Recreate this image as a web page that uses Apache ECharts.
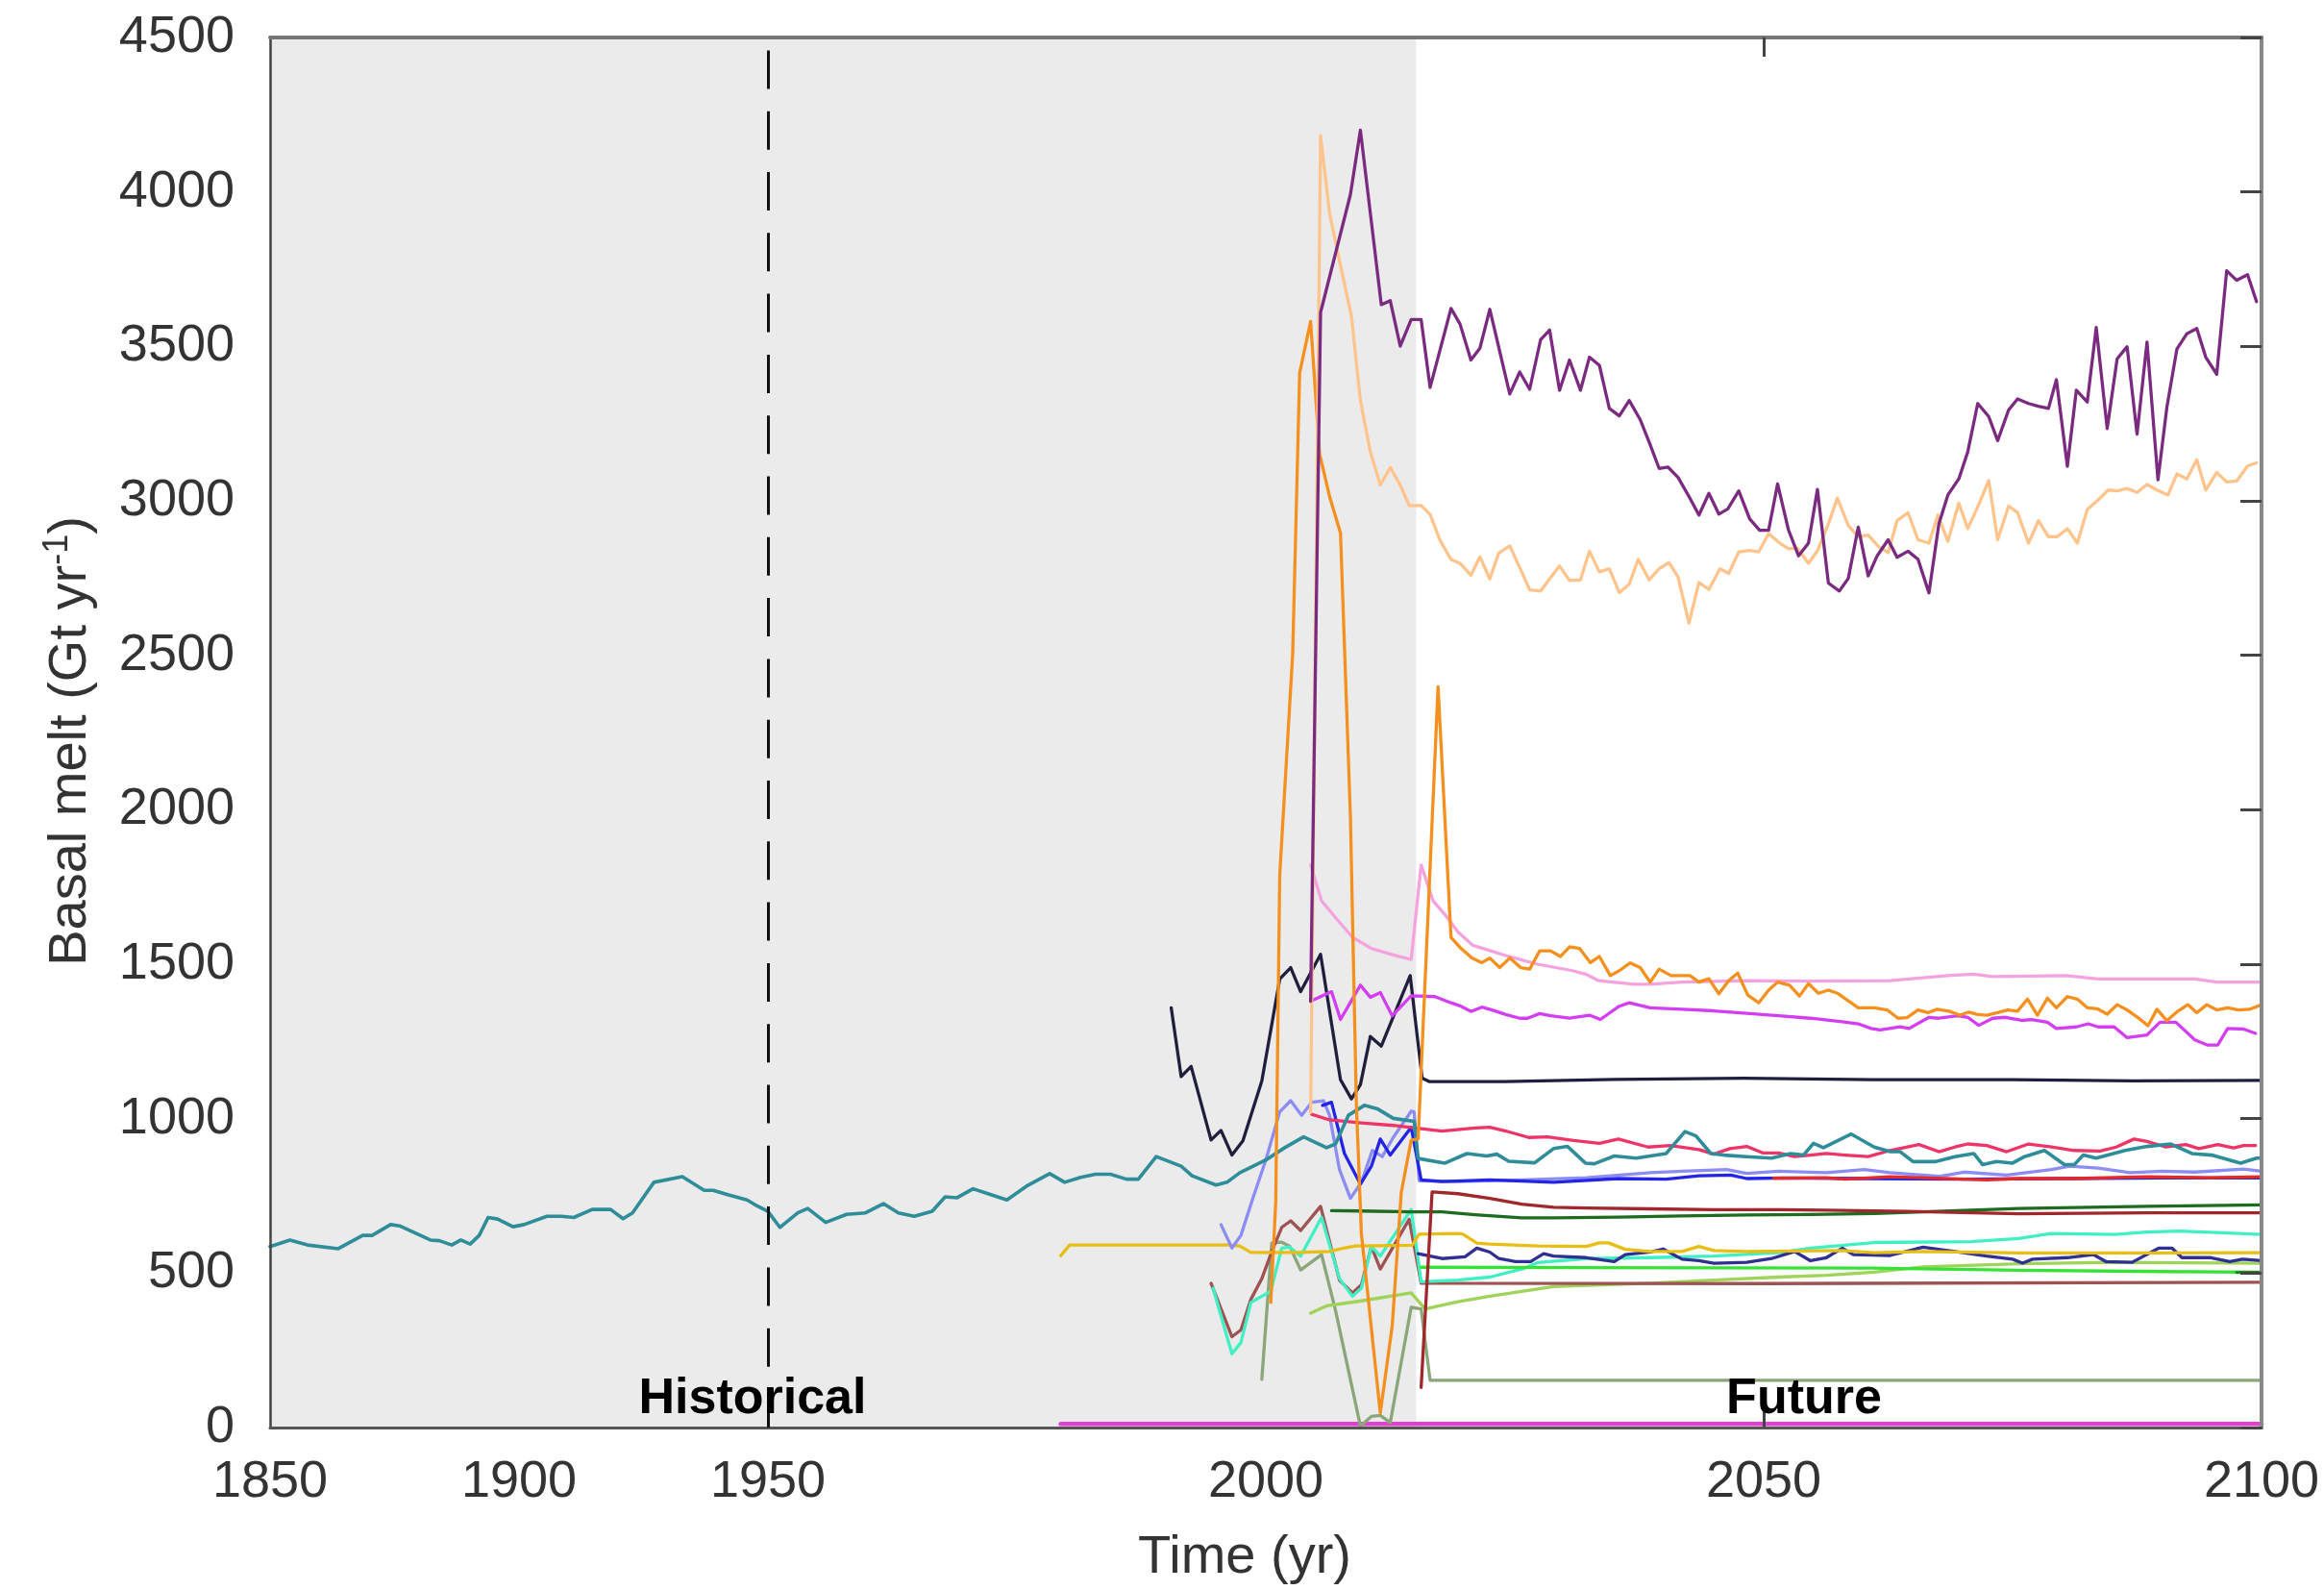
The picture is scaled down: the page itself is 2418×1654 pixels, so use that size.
<!DOCTYPE html>
<html>
<head>
<meta charset="utf-8">
<script src="https://cdn.jsdelivr.net/npm/echarts@6.0.0/dist/echarts.min.js"></script>
<style>
  html, body { margin: 0; padding: 0; background: #ffffff; }
  #chart { width: 2418px; height: 1654px; }
</style>
</head>
<body>
<div id="chart"></div>
<script>
// Basal melt time series, [year, Gt/yr]
const teal = [[1850,586],[1854,607],[1857.5,591],[1863.7,579],[1868.6,622],[1870.5,622],[1874.2,657],[1876,653],[1882.2,607],[1884,605],[1886.5,591],[1888.3,607],[1890.2,594],[1892,622],[1893.8,680],[1895.7,675],[1898.8,650],[1901,657],[1905.6,684],[1908.6,684],[1911,680],[1914.7,706],[1918.4,706],[1920.9,676],[1922.8,695],[1927.1,794],[1932.8,812],[1937.2,768],[1939,768],[1942.1,753],[1945.8,737],[1948,716],[1950,700],[1951.2,648],[1953,695],[1954,709],[1955.8,664],[1957.9,690],[1959.8,695],[1961.6,725],[1963.1,695],[1964.7,684],[1966.5,700],[1967.8,747],[1969,744],[1970.6,773],[1972.1,757],[1974,737],[1976.1,784],[1978.3,822],[1979.8,794],[1981.4,810],[1982.9,820],[1984.4,820],[1986,804],[1987.2,804],[1989,877],[1991.5,846],[1992.6,815],[1995,785],[1996.1,794],[1997.4,825],[2000,866],[2001.9,906],[2003.8,941],[2006.1,906],[2007,918],[2008.3,1011],[2009.9,1043],[2011.2,1032],[2012.8,1001],[2014.9,991],[2015.3,871],[2018,856],[2020.2,887],[2022.2,879],[2023.2,885],[2024.4,862],[2027,857],[2028.9,903],[2030.3,910],[2032.1,856],[2033,854],[2035,879],[2037.2,872],[2040.2,887],[2042.1,958],[2043.2,944],[2044.7,887],[2046,882],[2048.3,877],[2050.8,872],[2052.7,887],[2054,882],[2055,920],[2056,906],[2058.8,950],[2061.1,908],[2062.7,893],[2063.7,893],[2065,861],[2067.3,861],[2069.2,877],[2071.1,887],[2072,851],[2073.4,861],[2075,856],[2076.2,877],[2078.2,897],[2080.2,851],[2081.2,851],[2082.1,882],[2083.4,872],[2086.3,897],[2088.5,910],[2090.9,918],[2093,887],[2095,882],[2097.9,856],[2099.5,872],[2100,872]];

const purple = [[2004.5,1380],[2005.5,3610],[2008.5,3992],[2009.5,4200],[2011.6,3635],[2012.5,3648],[2013.5,3501],[2014.6,3587],[2015.6,3587],[2016.5,3367],[2018.6,3623],[2019.5,3573],[2020.6,3456],[2021.5,3494],[2022.5,3620],[2024.5,3346],[2025.5,3417],[2026.5,3361],[2027.6,3522],[2028.5,3553],[2029.5,3358],[2030.5,3456],[2031.6,3358],[2032.5,3465],[2033.5,3439],[2034.5,3299],[2035.5,3275],[2036.5,3325],[2037.6,3263],[2038.5,3190],[2039.5,3105],[2040.4,3109],[2041.4,3076],[2042.5,3014],[2043.5,2954],[2044.5,3024],[2045.5,2957],[2046.4,2974],[2047.5,3032],[2048.6,2941],[2049.6,2905],[2050.5,2905],[2051.4,3055],[2052.5,2905],[2053.5,2822],[2054.5,2863],[2055.4,3037],[2056.5,2734],[2057.6,2708],[2058.5,2749],[2059.5,2915],[2060.5,2757],[2061.4,2822],[2062.5,2874],[2063.4,2817],[2064.5,2837],[2065.5,2811],[2066.6,2702],[2067.6,2926],[2068.5,3019],[2069.6,3071],[2070.5,3159],[2071.5,3315],[2072.6,3273],[2073.5,3195],[2074.6,3294],[2075.5,3330],[2076.6,3315],[2077.6,3306],[2078.6,3299],[2079.4,3392],[2080.5,3112],[2081.4,3358],[2082.5,3320],[2083.4,3561],[2084.5,3234],[2085.5,3460],[2086.5,3499],[2087.5,3216],[2088.5,3514],[2089.6,3068],[2090.5,3304],[2091.5,3491],[2092.5,3541],[2093.5,3558],[2094.4,3465],[2095.5,3410],[2096.5,3745],[2097.5,3714],[2098.6,3732],[2099.5,3645]];

const peach = [[2004.5,1020],[2005.5,4182],[2006.4,3932],[2007.4,3777],[2008.6,3598],[2009.5,3325],[2010.5,3158],[2011.5,3051],[2012.5,3108],[2013.5,3051],[2014.4,2985],[2015.6,2985],[2016.5,2956],[2017.5,2872],[2018.6,2810],[2019.5,2798],[2020.6,2759],[2021.5,2819],[2022.5,2747],[2023.4,2831],[2024.5,2854],[2025.6,2777],[2026.5,2712],[2027.6,2708],[2028.5,2747],[2029.5,2789],[2030.5,2742],[2031.6,2744],[2032.5,2837],[2033.5,2770],[2034.5,2780],[2035.5,2703],[2036.5,2730],[2037.4,2811],[2038.5,2744],[2039.5,2780],[2040.5,2800],[2041.4,2754],[2042.5,2604],[2043.5,2736],[2044.5,2713],[2045.6,2780],[2046.5,2765],[2047.5,2835],[2048.6,2839],[2049.5,2835],[2050.5,2894],[2051.5,2866],[2052.5,2845],[2053.4,2847],[2054.5,2798],[2055.4,2838],[2056.5,2925],[2057.4,3009],[2058.5,2920],[2059.5,2884],[2060.5,2889],[2061.5,2853],[2062.5,2832],[2063.4,2936],[2064.5,2962],[2065.5,2874],[2066.6,2863],[2067.5,2954],[2068.5,2869],[2069.6,2993],[2070.5,2910],[2071.6,2988],[2072.6,3066],[2073.5,2874],[2074.6,2983],[2075.5,2962],[2076.6,2863],[2077.6,2936],[2078.6,2884],[2079.5,2884],[2080.5,2910],[2081.5,2863],[2082.5,2972],[2083.6,3003],[2084.6,3035],[2085.5,3032],[2086.5,3040],[2087.5,3027],[2088.5,3053],[2089.5,3035],[2090.6,3019],[2091.5,3087],[2092.5,3071],[2093.5,3133],[2094.4,3035],[2095.5,3092],[2096.5,3061],[2097.5,3064],[2098.6,3113],[2099.5,3123]];

const orange = [[2000.5,405],[2001,731],[2001.4,1790],[2002.7,2505],[2003.4,3414],[2004.5,3581],[2005.4,3152],[2006.4,3015],[2007.5,2896],[2008.5,1976],[2009.1,1043],[2009.6,628],[2011.5,47],[2012.7,330],[2013.6,760],[2014.6,930],[2015.3,935],[2017.3,2398],[2018.6,1587],[2019.6,1551],[2020.7,1520],[2021.7,1505],[2022.5,1520],[2023.5,1489],[2024.5,1520],[2025.6,1489],[2026.5,1484],[2027.5,1543],[2028.6,1543],[2029.6,1525],[2030.5,1556],[2031.5,1551],[2032.6,1505],[2033.5,1525],[2034.6,1463],[2035.5,1479],[2036.6,1504],[2037.6,1489],[2038.6,1442],[2039.5,1484],[2040.7,1463],[2041.6,1463],[2042.6,1463],[2043.5,1442],[2044.5,1453],[2045.5,1404],[2046.5,1447],[2047.4,1471],[2048.4,1400],[2049.5,1375],[2050.5,1416],[2051.4,1442],[2052.6,1432],[2053.6,1397],[2054.5,1437],[2055.5,1406],[2056.5,1416],[2057.4,1406],[2059.5,1359],[2061.1,1359],[2062.4,1352],[2063.5,1325],[2064.4,1327],[2065.5,1352],[2066.5,1343],[2067.4,1354],[2068.6,1348],[2069.7,1335],[2070.6,1345],[2071.4,1338],[2072.4,1335],[2073.5,1343],[2074.5,1352],[2075.5,1348],[2076.5,1387],[2077.5,1335],[2078.5,1390],[2079.4,1359],[2080.5,1395],[2081.5,1387],[2082.5,1359],[2083.5,1356],[2084.5,1338],[2085.5,1369],[2086.4,1354],[2087.6,1327],[2088.6,1301],[2089.5,1354],[2090.5,1317],[2091.6,1348],[2092.6,1369],[2093.5,1343],[2094.5,1369],[2095.5,1352],[2096.6,1359],[2097.7,1352],[2098.8,1354],[2100,1369]];

const lightPink = [[2004.5,1821],[2005.6,1705],[2006.9,1655],[2008.7,1587],[2010.6,1551],[2012.8,1530],[2014.6,1515],[2015.6,1821],[2016.8,1705],[2018,1660],[2019.3,1604],[2020.8,1561],[2021.8,1551],[2024.4,1525],[2027.3,1500],[2030.8,1479],[2032.1,1468],[2033.4,1447],[2037,1435],[2038.6,1435],[2041.8,1442],[2048.3,1447],[2054.7,1445],[2062.7,1447],[2068.5,1463],[2071.1,1468],[2073,1460],[2080.4,1463],[2083.6,1452],[2093.3,1452],[2095.5,1442],[2100,1442]];

const magenta = [[2004.5,1380],[2006.6,1411],[2007.5,1321],[2009.5,1432],[2010.5,1393],[2011.5,1408],[2012.7,1333],[2014.6,1398],[2017,1395],[2018.6,1375],[2019.6,1364],[2020.6,1347],[2021.7,1361],[2022.8,1351],[2024.1,1337],[2025.5,1325],[2026.3,1325],[2027.5,1340],[2028.6,1333],[2030.5,1325],[2032.5,1335],[2033.6,1321],[2035.5,1364],[2036.5,1375],[2038.6,1359],[2041.8,1354],[2045,1349],[2048.3,1341],[2051.5,1333],[2054.7,1325],[2057.9,1314],[2059.5,1307],[2060.8,1292],[2061.7,1287],[2063.7,1297],[2064.6,1292],[2066.6,1328],[2067.6,1325],[2069.5,1333],[2070.5,1328],[2071.6,1302],[2073,1325],[2074.3,1328],[2075.9,1318],[2076.9,1321],[2078.5,1312],[2079.4,1292],[2081.4,1297],[2082.6,1307],[2083.6,1297],[2085.2,1297],[2086.5,1262],[2088.5,1271],[2089.8,1312],[2091.4,1312],[2093.3,1255],[2094.6,1238],[2095.6,1238],[2096.6,1292],[2098.2,1290],[2099.4,1276]];

const nightBlue = [[1990.5,1359],[1991.5,1136],[1992.5,1169],[1994.5,931],[1995.5,962],[1996.6,882],[1997.7,928],[1999.6,1122],[2001.4,1452],[2002.5,1489],[2003.5,1411],[2005.5,1532],[2007.5,1126],[2008.6,1064],[2009.5,1110],[2010.5,1266],[2011.6,1235],[2014.5,1463],[2015.7,1131],[2016.4,1120],[2024,1120],[2035,1127],[2048,1131],[2061,1126],[2075,1126],[2087,1122],[2100,1124]];

const crimson = [[2004.6,1014],[2006.4,996],[2009.6,986],[2012.8,978],[2015.4,968],[2017.7,960],[2021,970],[2022.5,972],[2024.1,960],[2026.4,939],[2028.3,941],[2030.9,929],[2033.5,920],[2035.4,934],[2038.4,908],[2040.6,913],[2043.5,900],[2045,885],[2046.6,903],[2048.3,910],[2049.9,889],[2051.5,889],[2053.1,877],[2054.7,882],[2056.3,887],[2058.2,882],[2060.5,877],[2062.7,897],[2065.6,916],[2067.6,893],[2069.2,908],[2070.5,918],[2072.4,913],[2074.4,893],[2076.6,918],[2078.9,908],[2081.2,897],[2083.8,895],[2085.4,908],[2087.2,934],[2088.5,926],[2090.4,908],[2092.4,916],[2093.7,903],[2095.6,916],[2097.2,905],[2098.2,913],[2099.4,913]];

const periwinkle = [[1995.5,657],[1996.6,581],[1997.5,622],[1998.7,742],[2000,866],[2001.4,1022],[2002.5,1058],[2003.6,1011],[2004.6,1053],[2005.8,1058],[2006.4,1011],[2007.4,835],[2008.5,742],[2009.6,794],[2010.7,897],[2011.7,877],[2012.8,939],[2014.6,1024],[2014.9,1022],[2015.4,799],[2019.3,796],[2025.7,802],[2032.2,809],[2038.6,825],[2041.8,830],[2046.3,835],[2048.3,823],[2051.5,830],[2056.3,825],[2060.1,835],[2062.7,825],[2067.6,813],[2070.1,827],[2074.4,817],[2078.9,835],[2080.7,846],[2083.6,840],[2086.8,825],[2090,830],[2093.3,827],[2098.2,837],[2100,830]];

const blue = [[2005.7,1043],[2006.6,1053],[2007.9,887],[2009.5,788],[2010.6,846],[2011.5,934],[2012.5,882],[2014.6,972],[2015.6,802],[2017.7,796],[2022.5,802],[2028.9,794],[2035.4,806],[2040.2,804],[2043.5,815],[2046.7,817],[2048.3,806],[2052,808],[2060,806],[2070,804],[2080,806],[2090,808],[2100,808]];

const red = [[2051,807],[2056.3,809],[2058.2,804],[2062.7,812],[2072.4,802],[2075.6,806],[2081.2,806],[2088.5,812],[2094.9,809],[2100,812]];

const maroon = [[2015.6,130],[2016.7,763],[2019.3,757],[2022.5,742],[2025.7,723],[2028.9,713],[2032.2,711],[2038.6,708],[2045,705],[2051.5,705],[2056.3,704],[2064.4,700],[2075.6,692],[2088.5,695],[2100,695]];

const darkGreen = [[2006.6,702],[2009.6,701],[2014.6,698],[2017.7,698],[2021,689],[2025.7,679],[2028.9,679],[2035.4,681],[2041.8,685],[2048.3,688],[2054.7,690],[2061.1,693],[2066,698],[2075.6,709],[2088.5,716],[2100,721]];

const mustard = [[1979.4,556],[1980.3,591],[1996.4,591],[1997.4,588],[1998.5,567],[2003.2,567],[2006.4,570],[2007.7,580],[2009,588],[2014.7,590],[2015.4,626],[2019.3,628],[2019.8,626],[2021.2,597],[2022.5,594],[2027.3,588],[2032.2,586],[2033.5,598],[2034.4,598],[2036.1,577],[2038.6,570],[2041.8,570],[2043.5,586],[2045,573],[2048.3,570],[2057.9,573],[2061.1,566],[2066,570],[2075.6,565],[2088.5,565],[2100,566]];

const indigo = [[2015.3,563],[2017.7,547],[2020,553],[2021.2,581],[2022.5,568],[2023.4,547],[2025.1,537],[2026.6,537],[2027.9,563],[2028.9,555],[2032.2,550],[2035,537],[2036.1,560],[2038.6,568],[2039.9,578],[2041.8,545],[2043.5,540],[2045,532],[2048.3,535],[2050.8,547],[2053.1,570],[2054.7,540],[2056.3,550],[2057.9,581],[2059,560],[2062.7,557],[2066,584],[2069.2,570],[2072.4,555],[2075,545],[2076,532],[2077,545],[2080.5,550],[2083.1,560],[2084.4,537],[2087,535],[2089.7,581],[2091,581],[2092,550],[2094.9,550],[2096.8,537],[2098.1,545],[2100,540]];

const lime = [[2015.6,519],[2030,518],[2045,517],[2061,516],[2075.6,509],[2090,505],[2100,503]];

const forest = [[2097.5,502],[2100,502]];

const turquoise = [[1994.7,451],[1996.6,239],[1997.5,275],[1998.5,405],[2000.5,441],[2001.6,581],[2002.4,584],[2003.5,555],[2005.6,680],[2007.4,482],[2008.7,425],[2009.6,451],[2010.6,586],[2011.5,555],[2014.6,706],[2015.6,472],[2019.3,477],[2022.5,487],[2025.7,513],[2027.3,534],[2032.2,547],[2038.6,550],[2045,555],[2051.5,566],[2054.7,581],[2061.1,599],[2070.8,602],[2075.6,612],[2078.9,628],[2085.3,625],[2088.5,633],[2091.8,636],[2096.6,630],[2100,625]];

const rosyBrown = [[1994.5,467],[1996.6,294],[1997.5,316],[1998.5,415],[1999.6,482],[2000.6,570],[2001.6,648],[2002.5,669],[2003.5,638],[2005.5,716],[2007.4,477],[2008.7,436],[2009.6,462],[2010.6,586],[2011.5,513],[2014.4,674],[2015.6,467],[2050,466],[2100,470]];

const yellowGreen = [[2004.5,370],[2006.1,394],[2009.6,410],[2014.6,436],[2016,384],[2019.3,407],[2022.5,425],[2028.9,456],[2038.6,467],[2045,477],[2051.5,487],[2056.3,493],[2061.1,503],[2066,520],[2075.6,530],[2085.3,535],[2100,532]];

const sage = [[1999.6,156],[2000.6,597],[2001.6,600],[2002.4,587],[2003.5,510],[2005.6,560],[2007,379],[2009.5,5],[2010.6,36],[2011.5,39],[2012.5,16],[2014.6,389],[2015.6,384],[2016.5,153],[2100,153]];

const hotPink = [[1979.4,12],[2100,12]];

// Axis ticks and labels
const yTicks = { min: 0, max: 4500, interval: 500 };
const xLabelsHist = [1850, 1900];
const xLabelsMain = [1950, 2000, 2050, 2100];
const historicalEnd = 2015.1;
const breakYear = 1950;

const FONT = "'Liberation Sans', Arial, Helvetica, sans-serif";

// Series drawn bottom-to-top
const lines = [
  { data: hotPink, color: '#e23fcf', width: 4.5 },
  { data: sage, color: '#8aa67a' },
  { data: yellowGreen, color: '#9fd35a' },
  { data: rosyBrown, color: '#9e5252' },
  { data: turquoise, color: '#40f0c4' },
  { data: lime, color: '#36e236' },
  { data: forest, color: '#1d8a1d' },
  { data: indigo, color: '#303093' },
  { data: mustard, color: '#e8be15' },
  { data: darkGreen, color: '#1f6b1f' },
  { data: maroon, color: '#a0282c' },
  { data: periwinkle, color: '#8c8cf5' },
  { data: blue, color: '#2424e6' },
  { data: red, color: '#e52828' },
  { data: crimson, color: '#ef3468' },
  { data: teal, color: '#2e8d98', width: 3.6 },
  { data: nightBlue, color: '#1f1f3d' },
  { data: magenta, color: '#d43ef3' },
  { data: lightPink, color: '#f5a3df' },
  { data: orange, color: '#f5901f' },
  { data: peach, color: '#ffc48c' },
  { data: purple, color: '#7b2b7f' }
];

function lineSeries(points, color, width, xi, yi) {
  return {
    type: 'line',
    xAxisIndex: xi,
    yAxisIndex: yi,
    data: points,
    showSymbol: false,
    symbol: 'none',
    silent: true,
    clip: true,
    z: 2,
    lineStyle: { color: color, width: width || 3.3, cap: 'round', join: 'round' },
    emphasis: { disabled: true }
  };
}

const series = [];

// shaded historical period
series.push({
  type: 'line', xAxisIndex: 0, yAxisIndex: 0, data: [], silent: true, z: 1,
  markArea: {
    silent: true,
    itemStyle: { color: '#ebebeb' },
    data: [[{ xAxis: 1850, yAxis: yTicks.min }, { xAxis: breakYear, yAxis: yTicks.max }]]
  }
});
series.push({
  type: 'line', xAxisIndex: 2, yAxisIndex: 1, data: [], silent: true, z: 1,
  markArea: {
    silent: true,
    itemStyle: { color: '#ebebeb' },
    data: [[{ xAxis: breakYear, yAxis: yTicks.min }, { xAxis: historicalEnd, yAxis: yTicks.max }]]
  }
});

lines.forEach(function (s) {
  const left = s.data.filter(function (p) { return p[0] <= breakYear; });
  const right = s.data.filter(function (p) { return p[0] >= breakYear; });
  if (left.length > 1) series.push(lineSeries(left, s.color, s.width, 0, 0));
  if (right.length > 1) series.push(lineSeries(right, s.color, s.width, 2, 1));
});

// dashed marker at the axis break
series.push({
  type: 'line', xAxisIndex: 2, yAxisIndex: 1, data: [], silent: true, z: 5,
  markLine: {
    silent: true,
    symbol: ['none', 'none'],
    label: { show: false },
    lineStyle: { color: '#111111', width: 3, type: [40, 23.3] },
    data: [[{ xAxis: breakYear, yAxis: yTicks.min }, { xAxis: breakYear, yAxis: yTicks.max }]]
  }
});

const plain = function (v) { return String(v); };
const labelStyle = { fontSize: 54, color: '#333333', fontFamily: FONT, formatter: plain };

const option = {
  animation: false,
  backgroundColor: '#ffffff',
  grid: [
    { left: 281, top: 39, width: 518, height: 1446 },
    { left: 799, top: 39, width: 1554, height: 1446 }
  ],
  xAxis: [
    {
      gridIndex: 0, type: 'value', min: 1850, max: breakYear, position: 'bottom', z: 3,
      axisLine: { show: true, lineStyle: { color: '#555555', width: 3 } },
      axisTick: { show: false },
      axisLabel: Object.assign({ customValues: xLabelsHist, margin: 30 }, labelStyle),
      splitLine: { show: false }
    },
    {
      gridIndex: 0, type: 'value', min: 1850, max: breakYear, position: 'top', z: 3,
      axisLine: { show: true, lineStyle: { color: '#777777', width: 4 } },
      axisTick: { show: false }, axisLabel: { show: false }, splitLine: { show: false }
    },
    {
      gridIndex: 1, type: 'value', min: breakYear, max: 2100, position: 'bottom', z: 3,
      axisLine: { show: true, lineStyle: { color: '#555555', width: 3 } },
      axisTick: { show: true, inside: true, length: 20, customValues: [2050], lineStyle: { color: '#444444', width: 3 } },
      axisLabel: Object.assign({ customValues: xLabelsMain, margin: 30 }, labelStyle),
      splitLine: { show: false }
    },
    {
      gridIndex: 1, type: 'value', min: breakYear, max: 2100, position: 'top', z: 3,
      axisLine: { show: true, lineStyle: { color: '#777777', width: 4 } },
      axisTick: { show: true, inside: true, length: 20, customValues: [2050], lineStyle: { color: '#444444', width: 3 } },
      axisLabel: { show: false }, splitLine: { show: false }
    }
  ],
  yAxis: [
    {
      gridIndex: 0, type: 'value', min: yTicks.min, max: yTicks.max, interval: yTicks.interval, position: 'left', z: 3,
      axisLine: { show: true, lineStyle: { color: '#444444', width: 2.5 } },
      axisTick: { show: false },
      axisLabel: Object.assign({ margin: 37 }, labelStyle),
      splitLine: { show: false }
    },
    {
      gridIndex: 1, type: 'value', min: yTicks.min, max: yTicks.max, interval: yTicks.interval, position: 'right', z: 3,
      axisLine: { show: true, lineStyle: { color: '#888888', width: 4 } },
      axisTick: { show: true, inside: true, length: 22, lineStyle: { color: '#444444', width: 3 } },
      axisLabel: { show: false },
      splitLine: { show: false }
    }
  ],
  graphic: [
    {
      type: 'text', x: 783, y: 1456, z: 10, silent: true,
      style: { text: 'Historical', fill: '#000000', font: 'bold 52px ' + FONT, align: 'center', verticalAlign: 'middle', textAlign: 'center', textVerticalAlign: 'middle' }
    },
    {
      type: 'text', x: 1877, y: 1456, z: 10, silent: true,
      style: { text: 'Future', fill: '#000000', font: 'bold 52px ' + FONT, align: 'center', verticalAlign: 'middle', textAlign: 'center', textVerticalAlign: 'middle' }
    },
    {
      type: 'text', x: 1295, y: 1621, z: 10, silent: true,
      style: { text: 'Time (yr)', fill: '#333333', font: '56px ' + FONT, align: 'center', verticalAlign: 'middle', textAlign: 'center', textVerticalAlign: 'middle' }
    },
    {
      type: 'text', x: 74, y: 771, rotation: Math.PI / 2, z: 10, silent: true,
      style: {
        text: '{a|Basal melt (Gt yr}{s|-1}{a|)}',
        fill: '#333333',
        align: 'center', verticalAlign: 'middle', textAlign: 'center', textVerticalAlign: 'middle',
        rich: {
          a: { fontSize: 56, fontFamily: FONT, fill: '#333333', lineHeight: 64, verticalAlign: 'middle' },
          s: { fontSize: 36, fontFamily: FONT, fill: '#333333', lineHeight: 36, verticalAlign: 'top' }
        }
      }
    }
  ],
  series: series
};

const chart = echarts.init(document.getElementById('chart'), null, { renderer: 'canvas' });
chart.setOption(option);
</script>
</body>
</html>
